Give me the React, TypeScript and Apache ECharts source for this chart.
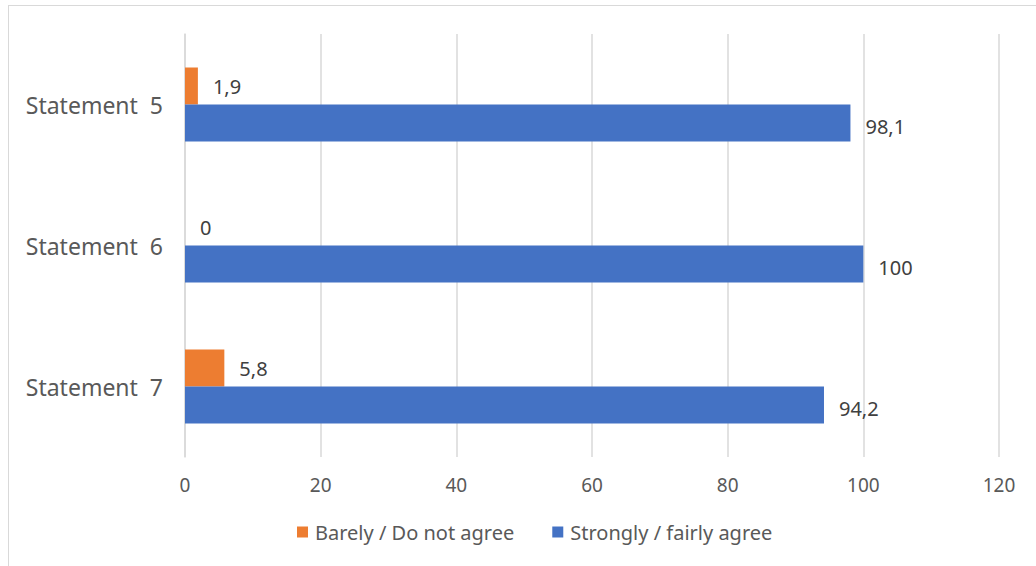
import React, { useEffect, useRef } from "react";
import * as echarts from "echarts";

const categories = ["Statement  5", "Statement  6", "Statement  7"];
const disagreeValues = [1.9, 0, 5.8];
const agreeValues = [98.1, 100, 94.2];
const seriesNames = ["Barely / Do not agree", "Strongly / fairly agree"];

const FONT = "Noto Sans";
const fmt = (v: number) => String(v).replace(".", ",");

export default function App() {
  const ref = useRef<HTMLDivElement>(null);

  useEffect(() => {
    document.body.style.margin = "0";
    const chart = echarts.init(ref.current!, null, { renderer: "svg" });
    const label = {
      show: true,
      position: "right" as const,
      distance: 15,
      color: "#404040",
      fontFamily: FONT,
      fontSize: 20,
      formatter: (p: any) => fmt(p.value),
    };
    chart.setOption({
      animation: false,
      grid: { left: 185, right: 37, top: 34, bottom: 109, containLabel: false },
      legend: {
        bottom: 19,
        left: 292,
        itemWidth: 11,
        itemHeight: 11,
        itemGap: 38,
        icon: "rect",
        textStyle: { color: "#595959", fontFamily: FONT, fontSize: 20, padding: [0, 0, 0, 2] },
        data: seriesNames,
      },
      xAxis: {
        type: "value",
        min: 0,
        max: 120,
        interval: 20,
        axisLine: { show: false },
        axisTick: { show: false },
        splitLine: { lineStyle: { color: "#d9d9d9", width: 1.5 } },
        axisLabel: { color: "#595959", fontFamily: FONT, fontSize: 19, margin: 18 },
      },
      yAxis: {
        type: "category",
        inverse: true,
        data: categories,
        axisLine: { show: true, lineStyle: { color: "#d9d9d9", width: 1.5 } },
        axisTick: { show: false },
        axisLabel: { color: "#595959", fontFamily: FONT, fontSize: 23, margin: 22 },
      },
      series: [
        {
          name: seriesNames[0],
          type: "bar",
          data: disagreeValues,
          barWidth: 37,
          barGap: "0%",
          itemStyle: { color: "#ed7d31" },
          label,
        },
        {
          name: seriesNames[1],
          type: "bar",
          data: agreeValues,
          barWidth: 37,
          barGap: "0%",
          itemStyle: { color: "#4472c4" },
          label: { ...label, offset: [0, 3] },
        },
      ],
      graphic: [
        { type: "line", shape: { x1: 8, y1: 5.5, x2: 1036, y2: 5.5 }, style: { stroke: "#d9d9d9", lineWidth: 1 } },
        { type: "line", shape: { x1: 8.5, y1: 5, x2: 8.5, y2: 566 }, style: { stroke: "#d9d9d9", lineWidth: 1 } },
      ],
    });
    return () => chart.dispose();
  }, []);

  return <div ref={ref} style={{ width: 1036, height: 566 }} />;
}
